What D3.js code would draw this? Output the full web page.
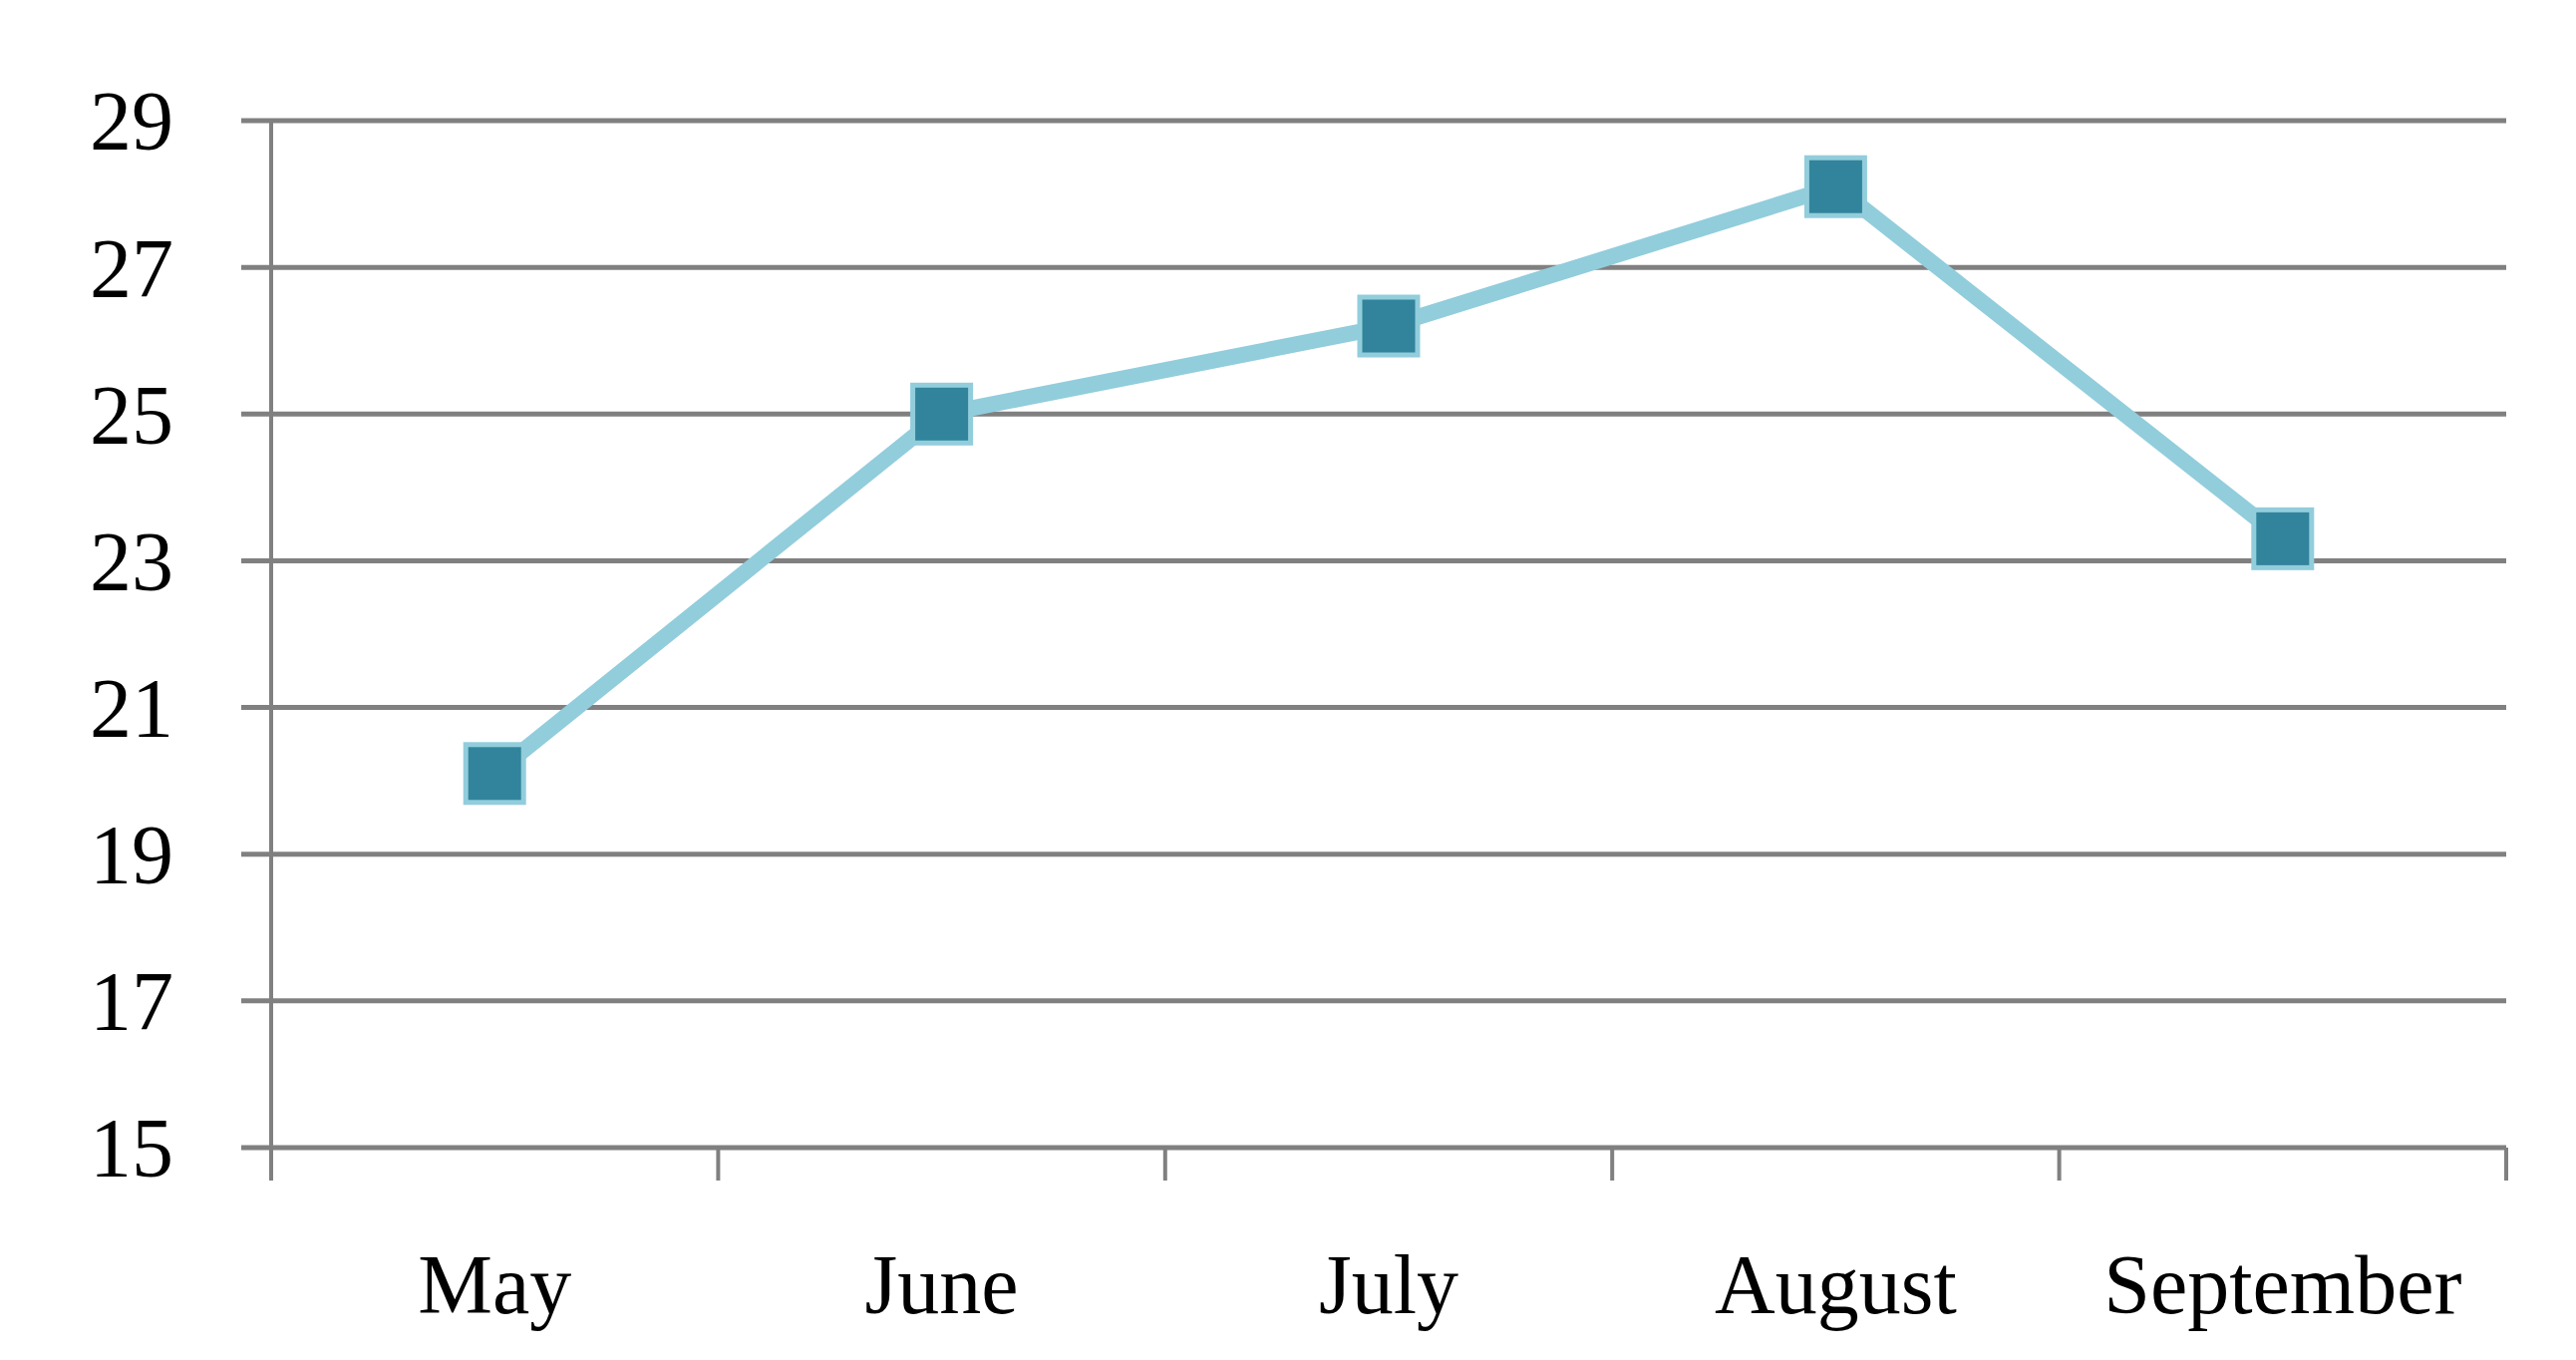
<!DOCTYPE html>
<html><head><meta charset="utf-8">
<script src="https://cdn.jsdelivr.net/npm/d3@7"></script>
<style>body{margin:0;background:#fff}</style>
</head><body><div id="chart"></div>
<script>
var months = ["May", "June", "July", "August", "September"],
    values = [20.1, 25.0, 26.2, 28.1, 23.3],
    yTicks = [15, 17, 19, 21, 23, 25, 27, 29];

var W = 2584, H = 1364,
    m = [121, 70, 213, 272]; // top right bottom left

var svg = d3.select("#chart").append("svg")
    .attr("width", W).attr("height", H)
    .style("font-family", "'Liberation Serif', 'DejaVu Serif', serif");

var x = d3.scaleBand().domain(months).range([m[3], W - m[1]]),
    y = d3.scaleLinear().domain([15, 29]).range([H - m[2], m[0]]);

// grid lines + left tick stubs
svg.selectAll(".grid").data(yTicks).enter().append("line")
    .attr("x1", m[3] - 30).attr("x2", W - m[1])
    .attr("y1", function (d) { return y(d); }).attr("y2", function (d) { return y(d); })
    .attr("stroke", "#808080").attr("stroke-width", 5);

svg.selectAll(".ylab").data(yTicks).enter().append("text")
    .attr("x", 174).attr("y", function (d) { return y(d); })
    .attr("dy", "0.35em").attr("text-anchor", "end")
    .attr("font-size", 84).text(function (d) { return d; });

// y axis line
svg.append("line").attr("x1", m[3]).attr("x2", m[3])
    .attr("y1", y(29)).attr("y2", y(15) + 33)
    .attr("stroke", "#808080").attr("stroke-width", 4);

// x ticks at band boundaries
var bounds = months.map(function (d) { return x(d); }).concat([W - m[1]]);
svg.selectAll(".xt").data(bounds).enter().append("line")
    .attr("x1", function (d) { return d; }).attr("x2", function (d) { return d; })
    .attr("y1", y(15)).attr("y2", y(15) + 33)
    .attr("stroke", "#808080").attr("stroke-width", 4);

svg.selectAll(".xlab").data(months).enter().append("text")
    .attr("x", function (d) { return x(d) + x.bandwidth() / 2; })
    .attr("y", 1317).attr("text-anchor", "middle")
    .attr("font-size", 84).text(function (d) { return d; });

var line = d3.line()
    .x(function (d, i) { return x(months[i]) + x.bandwidth() / 2; })
    .y(function (d) { return y(d); });

svg.append("path").datum(values).attr("d", line)
    .attr("fill", "none").attr("stroke", "#92CDDC").attr("stroke-width", 16)
    .attr("stroke-linejoin", "round");

var s = 58;
svg.selectAll(".pt").data(values).enter().append("rect")
    .attr("x", function (d, i) { return x(months[i]) + x.bandwidth() / 2 - s / 2; })
    .attr("y", function (d) { return y(d) - s / 2; })
    .attr("width", s).attr("height", s)
    .attr("fill", "#31849B").attr("stroke", "#92CDDC").attr("stroke-width", 5);
</script></body></html>
